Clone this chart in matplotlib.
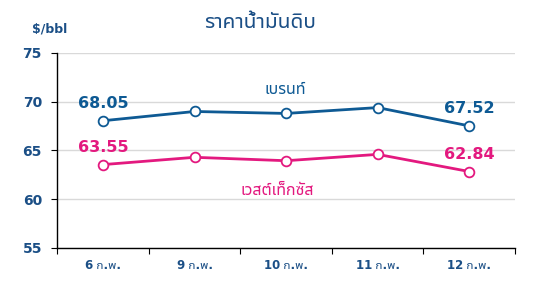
import matplotlib
matplotlib.use("Agg")
import matplotlib.pyplot as plt

plt.rcParams['font.family'] = ['Noto Sans Thai UI', 'DejaVu Sans']

dates = ['6 ก.พ.', '9 ก.พ.', '10 ก.พ.', '11 ก.พ.', '12 ก.พ.']
brent = [68.05, 69.0, 68.8, 69.4, 67.52]
wti = [63.55, 64.3, 63.95, 64.6, 62.84]
yticks = [55, 60, 65, 70, 75]

blue = '#0E5A94'
pink = '#E3197F'
txt = '#1B4F86'

fig = plt.figure(figsize=(5.55, 2.88), dpi=100)
ax = fig.add_axes([0.103, 0.139, 0.825, 0.677])

x = list(range(len(dates)))
ax.plot(x, brent, color=blue, lw=2, marker='o', ms=7, mfc='white', mec=blue, mew=1.3, zorder=3)
ax.plot(x, wti, color=pink, lw=2, marker='o', ms=7, mfc='white', mec=pink, mew=1.3, zorder=3)

# first / last value labels
for i in (0, len(dates) - 1):
    ax.annotate(f'{brent[i]:.2f}', (x[i], brent[i]), xytext=(0, 7), textcoords='offset points',
                ha='center', va='bottom', color=blue, fontsize=11.5, fontweight='bold')
    ax.annotate(f'{wti[i]:.2f}', (x[i], wti[i]), xytext=(0, 7), textcoords='offset points',
                ha='center', va='bottom', color=pink, fontsize=11.5, fontweight='bold')

ax.text(1.99, 70.5, 'เบรนท์', color=blue, fontsize=11.5, fontweight='bold', ha='center', va='bottom')
ax.text(1.9, 60.1, 'เวสต์เท็กซัส', color=pink, fontsize=11.5, fontweight='bold', ha='center', va='bottom')

ax.set_xlim(-0.5, len(dates) - 0.5)
ax.set_ylim(55, 75)
ax.set_yticks(yticks)
ax.set_xticks(x)
ax.set_xticklabels(dates)
ax.set_xticks([i + 0.5 for i in range(-1, len(dates))], minor=True)
ax.tick_params(axis='x', which='major', length=0, pad=8, labelsize=8.5, labelcolor=txt)
ax.tick_params(axis='x', which='minor', length=4, width=0.8, direction='out')
ax.tick_params(axis='y', length=4, width=0.8, pad=7, labelsize=10, labelcolor=txt)
for lab in ax.get_xticklabels() + ax.get_yticklabels():
    lab.set_fontweight('bold')

ax.grid(axis='y', color='#D9D9D9', lw=1)
ax.set_axisbelow(True)
ax.spines['top'].set_visible(False)
ax.spines['right'].set_visible(False)
ax.spines['left'].set_linewidth(1)
ax.spines['bottom'].set_linewidth(1)

fig.text(0.468, 0.925, 'ราคาน้ำมันดิบ', ha='center', va='center', color=txt, fontsize=15,
         fontweight='bold')
fig.text(0.058, 0.9, '$/bbl', ha='left', va='center', color=txt, fontsize=9, fontweight='bold')

fig.savefig('out.png', dpi=100)
